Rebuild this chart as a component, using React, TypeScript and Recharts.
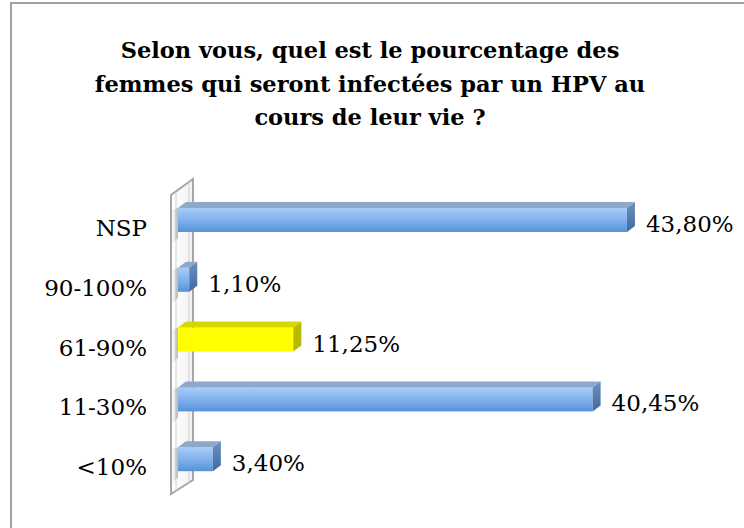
import React from 'react';
import { BarChart, Bar, XAxis, YAxis, LabelList } from 'recharts';

const categories = ['NSP', '90-100%', '61-90%', '11-30%', '<10%'];
const values = [43.8, 1.1, 11.25, 40.45, 3.4];
const highlighted = ['61-90%'];
const titleLines = [
  'Selon vous, quel est le pourcentage des',
  'femmes qui seront infectées par un HPV au',
  'cours de leur vie ?',
];

const data = categories.map((c, i) => ({ name: c, value: values[i] }));

const W = 744;
const H = 528;
const YAXIS_W = 178;
const M_TOP = 190;
const M_BOTTOM = 39;
const M_RIGHT = 53.5;
const DEPTH_X = 8;
const DEPTH_Y = 6;

const SERIF = '"DejaVu Serif", serif';

const Bar3D = (props: any) => {
  const { x, y, width, height, payload } = props;
  if (width == null || height == null) return null;
  const hi = highlighted.includes(payload?.name);
  const front = hi ? '#ffff00' : 'url(#blueFront)';
  const top = hi ? '#d6d600' : '#8ea8cc';
  const side = hi ? '#b9b900' : 'url(#blueSide)';
  const x2 = x + width;
  const y2 = y + height;
  return (
    <g>
      <polygon
        points={`${x - 6},${y + 2} ${x},${y} ${x},${y2 + 6} ${x - 6},${y2 + 12}`}
        fill="url(#wallShadow)"
      />
      <rect x={x} y={y} width={width} height={height} fill={front} />
      <polygon
        points={`${x},${y} ${x + DEPTH_X},${y - DEPTH_Y} ${x2 + DEPTH_X},${y - DEPTH_Y} ${x2},${y}`}
        fill={top}
      />
      <polygon
        points={`${x2},${y} ${x2 + DEPTH_X},${y - DEPTH_Y} ${x2 + DEPTH_X},${y2 - DEPTH_Y} ${x2},${y2}`}
        fill={side}
      />
    </g>
  );
};

const ValueLabel = (props: any) => {
  const { x, y, width, height, value } = props;
  const txt = Number(value).toFixed(2).replace('.', ',') + '%';
  return (
    <text
      x={x + width + 19}
      y={y + height / 2 + 12}
      fontFamily={SERIF}
      fontSize={23}
      fill="#000"
    >
      {txt}
    </text>
  );
};

const CatTick = (props: any) => {
  const { y, payload } = props;
  return (
    <text x={147} y={y + 16} textAnchor="end" fontFamily={SERIF} fontSize={23} fill="#000">
      {payload.value}
    </text>
  );
};

export default function App() {
  return (
    <div
      style={{
        position: 'absolute',
        left: 0,
        top: 0,
        width: W,
        height: H,
        overflow: 'hidden',
        background: '#fff',
      }}
    >
      <div
        style={{
          position: 'absolute',
          left: 10,
          top: 2,
          width: W + 20,
          height: H + 20,
          borderLeft: '2px solid #a0a0a0',
          borderTop: '2px solid #a0a0a0',
          boxSizing: 'border-box',
        }}
      />
      <svg width={W} height={H} style={{ position: 'absolute', left: 0, top: 0 }}>
        <defs>
          <linearGradient id="wallFill" x1="0" y1="0" x2="1" y2="0">
            <stop offset="0" stopColor="#ffffff" />
            <stop offset="1" stopColor="#f2f2f2" />
          </linearGradient>
        </defs>
        {titleLines.map((t, i) => (
          <text
            key={i}
            x={370}
            y={58 + i * 33.5}
            textAnchor="middle"
            fontFamily={SERIF}
            fontWeight="bold"
            fontSize={22.5}
            fill="#000"
          >
            {t}
          </text>
        ))}
        <polygon
          points="171,195 193,179 193,480 171,494"
          fill="url(#wallFill)"
          stroke="#a6a6a6"
          strokeWidth={2}
        />
        <line x1={176} y1={192} x2={176} y2={491} stroke="#d0d0d0" strokeWidth={1} />
        <line x1={189} y1={182} x2={189} y2={483} stroke="#d0d0d0" strokeWidth={1} />
      </svg>
      <div style={{ position: 'absolute', left: 0, top: 0 }}>
        <BarChart
          width={W}
          height={H}
          data={data}
          layout="vertical"
          margin={{ top: M_TOP, right: M_RIGHT, bottom: M_BOTTOM, left: 0 }}
          barCategoryGap={0}
        >
          <defs>
            <linearGradient id="blueFront" x1="0" y1="0" x2="0" y2="1">
              <stop offset="0" stopColor="#a8ccf6" />
              <stop offset="0.5" stopColor="#82b2ec" />
              <stop offset="1" stopColor="#5592d8" />
            </linearGradient>
            <linearGradient id="blueSide" x1="0" y1="0" x2="0" y2="1">
              <stop offset="0" stopColor="#6d8fbf" />
              <stop offset="1" stopColor="#3e6aa0" />
            </linearGradient>
            <linearGradient id="wallShadow" x1="1" y1="0" x2="0" y2="0">
              <stop offset="0" stopColor="#9a9a9a" stopOpacity={0.7} />
              <stop offset="1" stopColor="#d8d8d8" stopOpacity={0.1} />
            </linearGradient>
          </defs>
          <XAxis type="number" domain={[0, 50]} hide />
          <YAxis
            type="category"
            dataKey="name"
            width={YAXIS_W}
            axisLine={false}
            tickLine={false}
            tick={<CatTick />}
            interval={0}
          />
          <Bar dataKey="value" barSize={24} shape={<Bar3D />} isAnimationActive={false}>
            <LabelList dataKey="value" content={<ValueLabel />} />
          </Bar>
        </BarChart>
      </div>
    </div>
  );
}
